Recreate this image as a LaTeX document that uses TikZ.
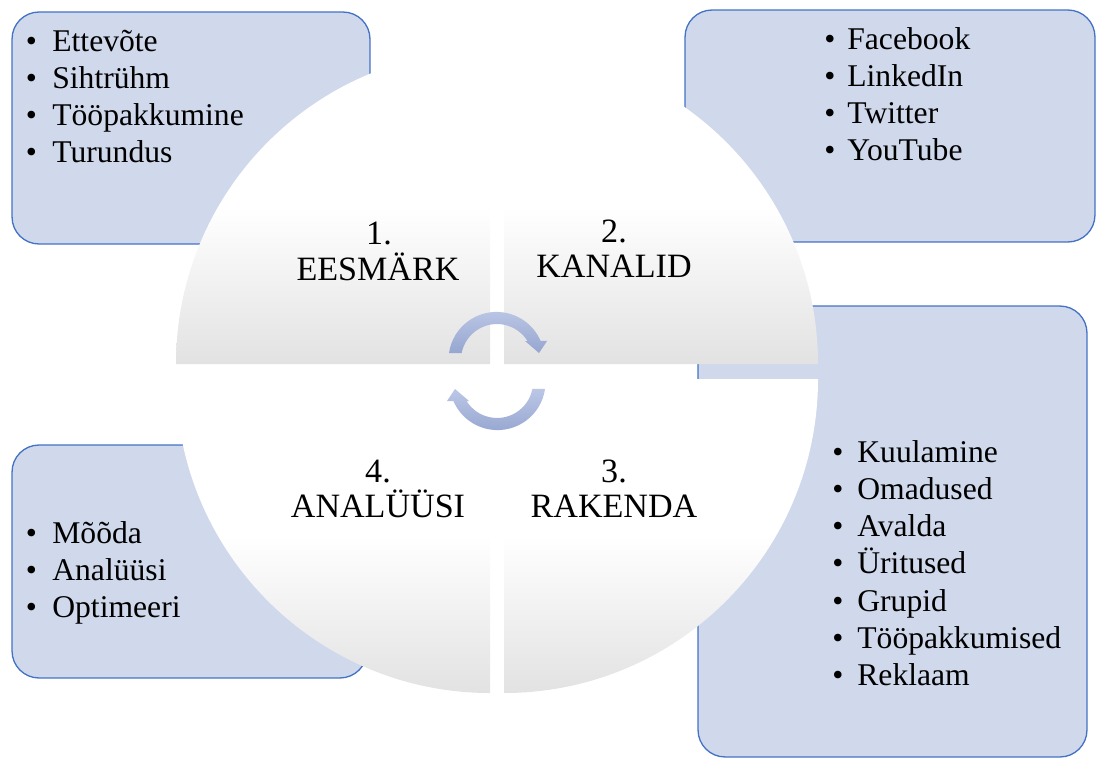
\documentclass[tikz,border=0pt]{standalone}
\usepackage{fontspec}
\setmainfont{Liberation Serif}
\definecolor{boxfill}{RGB}{208,216,235}
\definecolor{boxline}{RGB}{68,114,196}
\definecolor{qgrey}{RGB}{226,226,226}
\definecolor{arrtop}{RGB}{188,199,230}
\definecolor{arrbot}{RGB}{150,166,208}
\begin{document}
\begin{tikzpicture}[x=0.02cm,y=0.02cm,
  infobox/.style={draw=boxline, fill=boxfill, line width=0.75pt, rounded corners=0.54cm, inner sep=0pt},
  quad/.style={top color=white, bottom color=qgrey, middle color=white},
  listtxt/.style={anchor=base west, inner sep=0pt, font=\fontsize{18pt}{21pt}\selectfont},
  bul/.style={anchor=base, inner sep=0pt, font=\fontsize{18pt}{21pt}\selectfont},
  lbl/.style={anchor=base, inner sep=0pt, font=\fontsize{19.4pt}{23pt}\selectfont},
  arr/.style={top color=arrtop, bottom color=arrbot}]

\useasboundingbox (0,0) rectangle (1097,758);

% info boxes
\node[infobox, minimum width=7.16cm, minimum height=4.64cm] (boxA) at (191,630) {};
\node[infobox, minimum width=8.2cm, minimum height=4.64cm] (boxB) at (890,632) {};
\node[infobox, minimum width=7.1cm, minimum height=4.66cm] (boxD) at (189.5,196.5) {};
\node[infobox, minimum width=7.78cm, minimum height=9.02cm] (boxC) at (892.5,226.5) {};

% quadrants
\shade[quad] (490,394) -- (176,394) arc[start angle=180,end angle=90,radius=314] -- cycle;
\shade[quad] (504,394) -- (504,708) arc[start angle=90,end angle=0,radius=314] -- cycle;
\shade[quad] (490,379) -- (490,65) arc[start angle=270,end angle=180,radius=314] -- cycle;
\shade[quad] (504,379) -- (818,379) arc[start angle=0,end angle=-90,radius=314] -- cycle;

% quadrant labels
\node[lbl] (n1) at (379,513) {1.};
\node[lbl] (t1) at (378,478) {EESMÄRK};
\node[lbl] (n2) at (614,515) {2.};
\node[lbl] (t2) at (614,480) {KANALID};
\node[lbl] (n4) at (378,276) {4.};
\node[lbl] (t4) at (378,241) {ANALÜÜSI};
\node[lbl] (n3) at (614,276) {3.};
\node[lbl] (t3) at (614,241) {RAKENDA};

% cycle arrows
\shade[arr] (449,405) arc[start angle=171.7,end angle=23.3,radius=48]
  -- (547,417) -- (539,405) -- (525,417) -- (527.5,417)
  arc[start angle=31.9,end angle=168.8,radius=36] -- cycle;
\shade[arr] (545,369) arc[start angle=351.7,end angle=203.3,radius=48]
  -- (447,357) -- (455,369) -- (469,357) -- (466.5,357)
  arc[start angle=211.9,end angle=348.8,radius=36] -- cycle;

% lists
\foreach \n/\t/\y in {a1/Ettevõte/706, a2/Sihtrühm/669, a3/Tööpakkumine/632, a4/Turundus/595}{
  \node[bul] at (31.5,\y) {•};
  \node[listtxt] (\n) at (52,\y) {\t};
}
\foreach \n/\t/\y in {b1/Facebook/708, b2/LinkedIn/671, b3/Twitter/634, b4/YouTube/597}{
  \node[bul] at (830,\y) {•};
  \node[listtxt] (\n) at (847,\y) {\t};
}
\foreach \n/\t/\y in {d1/Mõõda/215, d2/Analüüsi/178, d3/Optimeeri/141}{
  \node[bul] at (31.5,\y) {•};
  \node[listtxt] (\n) at (52,\y) {\t};
}
\foreach \n/\t/\y in {c1/Kuulamine/296, c2/Omadused/259, c3/Avalda/222, c4/Üritused/185, c5/Grupid/147, c6/Tööpakkumised/110, c7/Reklaam/73}{
  \node[bul] at (838,\y) {•};
  \node[listtxt] (\n) at (857,\y) {\t};
}
\end{tikzpicture}
\end{document}
